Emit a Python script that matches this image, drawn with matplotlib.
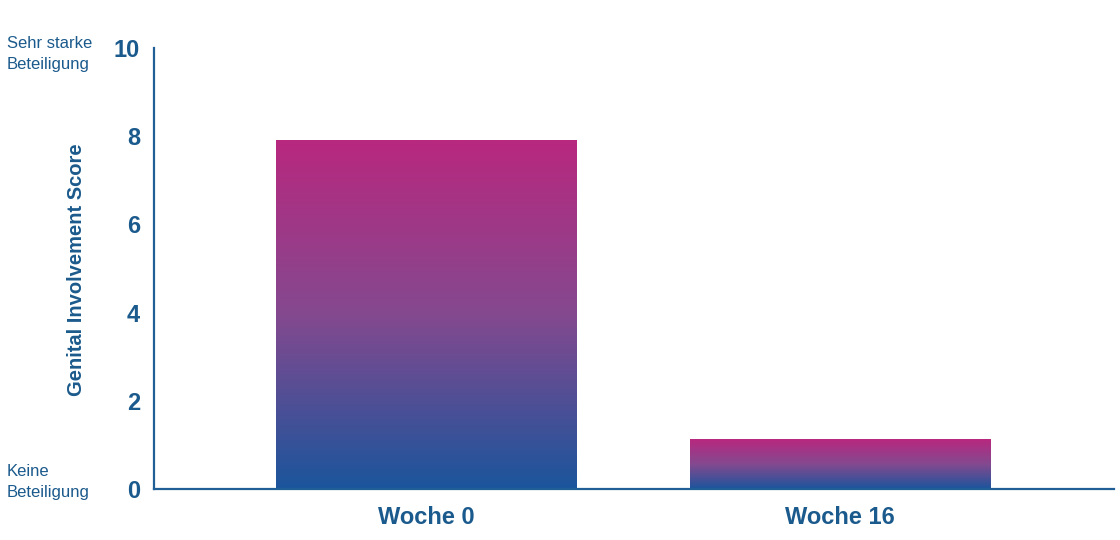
import numpy as np
import matplotlib
matplotlib.use('Agg')
import matplotlib.pyplot as plt
from matplotlib.colors import LinearSegmentedColormap
from matplotlib import font_manager

# data
categories = ['Woche 0', 'Woche 16']
scores = [7.9, 1.13]
yticks = [0, 2, 4, 6, 8, 10]
ylabel = 'Genital Involvement Score'
top_note = 'Sehr starke\nBeteiligung'
bottom_note = 'Keine\nBeteiligung'

txt_col = '#1B5A8C'
axis_col = '#1F5F95'
grad = LinearSegmentedColormap.from_list('grad', ['#1B559C', '#84498F', '#B8287F'])

names = {f.name for f in font_manager.fontManager.ttflist}
narrow = 'Liberation Sans Narrow' if 'Liberation Sans Narrow' in names else 'Liberation Sans'
plt.rcParams['font.family'] = ['Liberation Sans', 'DejaVu Sans']

fig = plt.figure(figsize=(11.2, 5.4), dpi=100)
ax = fig.add_axes([154/1120, 51/540, 960/1120, 441/540])

x = np.arange(len(categories))
width = 0.727
bars = ax.bar(x, scores, width=width, color='none')
g = np.linspace(0, 1, 256).reshape(-1, 1)
for b in bars:
    x0, y0 = b.get_x(), b.get_y()
    ax.imshow(g, cmap=grad, origin='lower', aspect='auto',
              extent=[x0, x0 + b.get_width(), y0, y0 + b.get_height()], zorder=2)

ax.set_xlim(-0.658, 1.661)
ax.set_ylim(0, 10)
ax.set_xticks(x)
ax.set_xticklabels(categories, fontsize=17, fontweight='bold', color=txt_col)
ax.set_yticks(yticks)
ax.set_yticklabels([str(t) for t in yticks], fontsize=17, fontweight='bold', color=txt_col)
ax.tick_params(axis='both', length=0)
ax.tick_params(axis='y', pad=10)
ax.tick_params(axis='x', pad=12)

for s in ['top', 'right']:
    ax.spines[s].set_visible(False)
for s in ['left', 'bottom']:
    ax.spines[s].set_color(axis_col)
    ax.spines[s].set_linewidth(1.6)

fig.text(77/1120, 1 - 270/540, ylabel, rotation=90, ha='center', va='center',
         fontsize=14.5, fontweight='bold', color=txt_col, family=[narrow, 'DejaVu Sans'])
fig.text(7/1120, 1 - 54/540, top_note, ha='left', va='center', fontsize=12,
         color=txt_col, linespacing=1.45)
fig.text(7/1120, 1 - 482/540, bottom_note, ha='left', va='center', fontsize=12,
         color=txt_col, linespacing=1.45)

fig.savefig('out.png', dpi=100)
